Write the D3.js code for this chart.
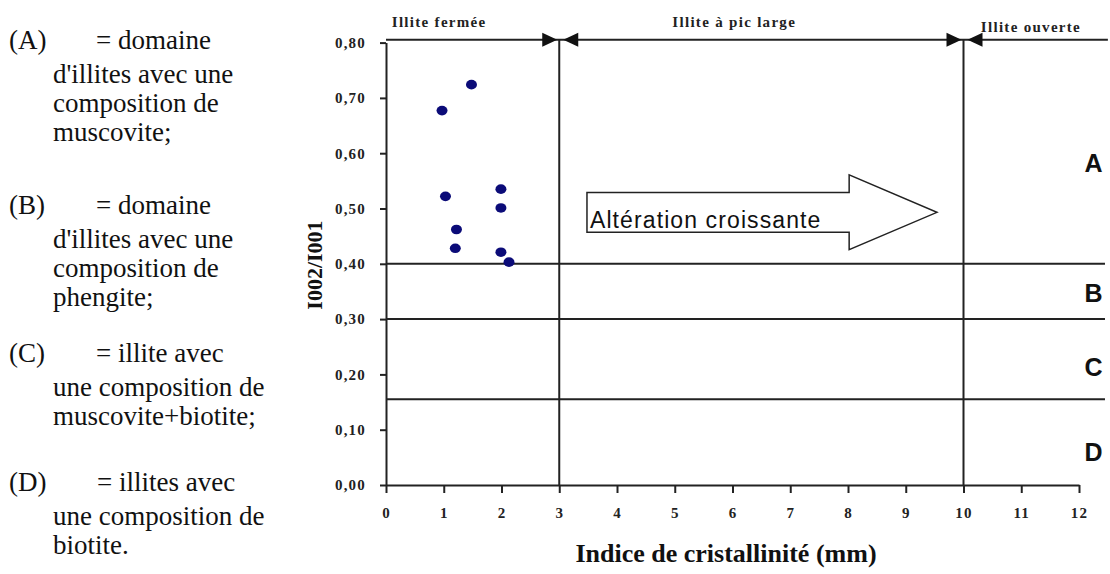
<!DOCTYPE html>
<html>
<head>
<meta charset="utf-8">
<script src="https://cdn.jsdelivr.net/npm/d3@7"></script>
<style>
  body { margin: 0; background: #fff; }
  svg { display: block; }
  .axis path, .axis line { stroke: #222; stroke-width: 2; }
  .axis text { font-family: "Liberation Serif", serif; font-weight: bold; font-size: 15px; fill: #222; letter-spacing: 1.2px; }
</style>
</head>
<body>
<svg id="chart" width="1110" height="574"></svg>
<script>
// Samples: crystallinity index (mm) vs I002/I001
const indexValues = [0.97, 1.48, 1.03, 1.22, 1.20, 1.99, 1.99, 1.99, 2.13];
const ratioValues = [0.677, 0.724, 0.522, 0.462, 0.428, 0.535, 0.501, 0.421, 0.403];

const xTicks = [0, 1, 2, 3, 4, 5, 6, 7, 8, 9, 10, 11, 12];
const yTicks = [0, 0.1, 0.2, 0.3, 0.4, 0.5, 0.6, 0.7, 0.8];

// Domain boundaries
const zoneLimits = [0.40, 0.30, 0.155];
const zoneNames = ["A", "B", "C", "D"];
const zoneLabelY = [0.583, 0.348, 0.214, 0.06];
const crystLimits = [3, 10];
const crystNames = ["Illite fermée", "Illite à pic large", "Illite ouverte"];
const crystLabelX = [0.1, 6.03, 10.3];

// Legend text blocks on the left
const legendHeads = ["(A)", "(B)", "(C)", "(D)"];
const legendFirst = ["= domaine", "= domaine", "= illite avec", "= illites avec"];
const legendRest = [
    ["d'illites avec une", "composition de", "muscovite;"],
    ["d'illites avec une", "composition de", "phengite;"],
    ["une composition de", "muscovite+biotite;"],
    ["une composition de", "biotite."]
];

const svg = d3.select("#chart");

const x = d3.scaleLinear().domain([0, 12]).range([386, 1079]);
const y = d3.scaleLinear().domain([0, 0.8]).range([485, 42.6]);

const ink = "#222";

// Axes
svg.append("g")
    .attr("class", "axis")
    .attr("transform", `translate(0,${y(0)})`)
    .call(d3.axisBottom(x).tickValues(xTicks).tickSize(8).tickSizeOuter(0).tickPadding(14)
        .tickFormat(d3.format("d")));

svg.append("g")
    .attr("class", "axis")
    .attr("transform", `translate(${x(0)},0)`)
    .call(d3.axisLeft(y).tickValues(yTicks).tickSize(6).tickSizeOuter(0).tickPadding(14)
        .tickFormat(d => d3.format(".2f")(d).replace(".", ",")));

// Zone boundaries (horizontal)
svg.selectAll(".zone-line")
    .data(zoneLimits)
    .join("line")
    .attr("x1", x(0)).attr("x2", x(12.45))
    .attr("y1", d => y(d)).attr("y2", d => y(d))
    .attr("stroke", ink).attr("stroke-width", 2);

// Top line with crystallinity domains
const topY = 0.805;
svg.append("line")
    .attr("x1", x(0)).attr("x2", x(12.5))
    .attr("y1", y(topY)).attr("y2", y(topY))
    .attr("stroke", ink).attr("stroke-width", 2);

svg.selectAll(".cryst-line")
    .data(crystLimits)
    .join("line")
    .attr("x1", d => x(d)).attr("x2", d => x(d))
    .attr("y1", y(topY)).attr("y2", y(0))
    .attr("stroke", ink).attr("stroke-width", 2);

// arrowheads meeting at each limit
crystLimits.forEach(d => {
    const cx = x(d), cy = y(topY);
    svg.append("path")
        .attr("d", `M${cx - 2},${cy} L${cx - 17},${cy - 7} L${cx - 17},${cy + 7} Z`)
        .attr("fill", "#111");
    svg.append("path")
        .attr("d", `M${cx + 4},${cy} L${cx + 19},${cy - 7} L${cx + 19},${cy + 7} Z`)
        .attr("fill", "#111");
});

svg.selectAll(".cryst-label")
    .data(crystNames)
    .join("text")
    .attr("x", (d, i) => x(crystLabelX[i]))
    .attr("y", (d, i) => i === 2 ? 32 : 27)
    .attr("text-anchor", (d, i) => i === 1 ? "middle" : "start")
    .attr("font-family", "Liberation Serif, serif")
    .attr("font-weight", "bold")
    .attr("font-size", "15px")
    .attr("letter-spacing", "1.3px")
    .attr("fill", ink)
    .text(d => d);

// Zone letters
svg.selectAll(".zone-label")
    .data(zoneNames)
    .join("text")
    .attr("x", x(12.25))
    .attr("y", (d, i) => y(zoneLabelY[i]))
    .attr("dy", "0.36em")
    .attr("text-anchor", "middle")
    .attr("font-family", "Liberation Sans, Arial, sans-serif")
    .attr("font-weight", "bold")
    .attr("font-size", "25px")
    .attr("fill", "#111")
    .text(d => d);

// Big hollow arrow "Altération croissante"
const arrow = { x0: 3.48, neck: 8.02, tip: 9.54, bodyTop: 0.529, bodyBot: 0.457, headTop: 0.561, headBot: 0.4255 };
const mid = (arrow.bodyTop + arrow.bodyBot) / 2;
svg.append("path")
    .attr("d", d3.line()([
        [x(arrow.x0), y(arrow.bodyTop)],
        [x(arrow.neck), y(arrow.bodyTop)],
        [x(arrow.neck), y(arrow.headTop)],
        [x(arrow.tip), y(mid)],
        [x(arrow.neck), y(arrow.headBot)],
        [x(arrow.neck), y(arrow.bodyBot)],
        [x(arrow.x0), y(arrow.bodyBot)]
    ]) + "Z")
    .attr("fill", "#fff")
    .attr("stroke", ink)
    .attr("stroke-width", 1.5);

svg.append("text")
    .attr("x", x(arrow.x0) + 3)
    .attr("y", y(mid) + 16)
    .attr("font-family", "Liberation Sans, Arial, sans-serif")
    .attr("font-size", "23px")
    .attr("letter-spacing", "1.1px")
    .attr("fill", "#111")
    .text("Altération croissante");

// Sample points
svg.selectAll(".pt")
    .data(indexValues)
    .join("ellipse")
    .attr("cx", d => x(d))
    .attr("cy", (d, i) => y(ratioValues[i]))
    .attr("rx", 5.5)
    .attr("ry", 4.8)
    .attr("fill", "#0b0b78");

// Axis titles
svg.append("text")
    .attr("x", 726)
    .attr("y", 562)
    .attr("text-anchor", "middle")
    .attr("font-family", "Liberation Serif, serif")
    .attr("font-weight", "bold")
    .attr("font-size", "26px")
    .attr("fill", "#111")
    .text("Indice de cristallinité (mm)");

svg.append("text")
    .attr("transform", `translate(322,265) rotate(-90)`)
    .attr("text-anchor", "middle")
    .attr("font-family", "Liberation Serif, serif")
    .attr("font-weight", "bold")
    .attr("font-size", "22px")
    .attr("fill", "#111")
    .text("I002/I001");

// Left legend
const blockTop = [49, 214, 362, 491];
const legend = svg.append("g")
    .attr("font-family", "Liberation Serif, serif")
    .attr("font-size", "27px")
    .attr("fill", "#111");

legendHeads.forEach((h, i) => {
    legend.append("text").attr("x", 9).attr("y", blockTop[i]).text(h);
    legend.append("text").attr("x", i === 3 ? 97 : 96).attr("y", blockTop[i]).text(legendFirst[i]);
    legendRest[i].forEach((line, j) => {
        legend.append("text")
            .attr("x", 53)
            .attr("y", blockTop[i] + 34 + j * 29)
            .text(line);
    });
});
</script>
</body>
</html>
